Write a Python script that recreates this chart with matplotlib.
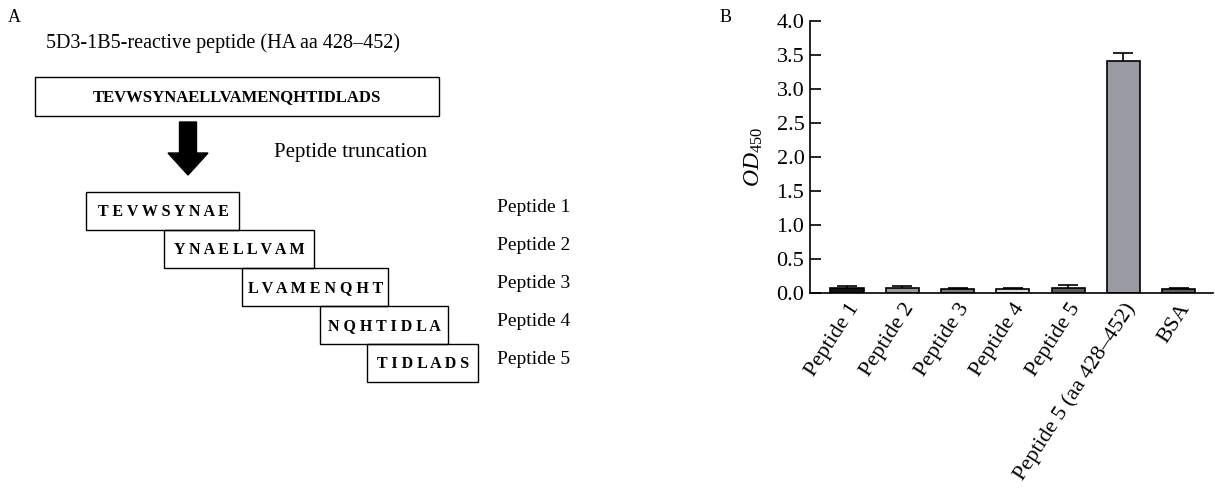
import matplotlib
matplotlib.use('Agg')
import matplotlib.pyplot as plt
from matplotlib.patches import Rectangle, FancyArrow

plt.rcParams['font.family'] = ['Liberation Serif', 'DejaVu Serif']
plt.rcParams['mathtext.fontset'] = 'custom'
plt.rcParams['mathtext.rm'] = 'Liberation Serif'
plt.rcParams['mathtext.it'] = 'Liberation Serif:italic'

# Panel A data: full reactive peptide and its truncations (residue numbers 1..25 -> aa 428..452)
full_seq = 'TEVWSYNAELLVAMENQHTIDLADS'
peptide_names = ['Peptide 1', 'Peptide 2', 'Peptide 3', 'Peptide 4', 'Peptide 5']
peptide_start = [1, 6, 11, 16, 19]
peptide_end = [9, 14, 19, 23, 25]

# Panel B data: ELISA OD450
categories = ['Peptide 1', 'Peptide 2', 'Peptide 3', 'Peptide 4', 'Peptide 5',
              'Peptide 5 (aa 428\u2013452)', 'BSA']
od450 = [0.07, 0.07, 0.065, 0.065, 0.08, 3.41, 0.065]
od450_err = [0.03, 0.03, 0.01, 0.01, 0.04, 0.12, 0.01]
bar_colors = ['#111111', '#9a9a9a', '#7a7a7a', '#dcdcdc', '#5a5a5a', '#9a9aa3', '#5c5c5c']

W, H = 1215, 496
fig = plt.figure(figsize=(W / 100, H / 100), dpi=100)

# ---- Panel A (schematic, drawn in pixel coordinates) ----
axA = fig.add_axes([0, 0, 1, 1])
axA.set_xlim(0, W)
axA.set_ylim(H, 0)
axA.axis('off')

axA.text(8, 18, 'A', fontsize=13, ha='left', va='center')
axA.text(223, 43, '5D3-1B5-reactive peptide (HA aa 428\u2013452)', fontsize=14.5,
         ha='center', va='center')
axA.add_patch(Rectangle((35, 77), 404, 39, fill=False, lw=1.0, ec='black'))
axA.text(237, 97, full_seq, fontsize=12, fontweight='bold', ha='center', va='center')

axA.add_patch(FancyArrow(188, 122, 0, 53, width=17, head_width=40, head_length=22,
                         length_includes_head=True, color='black'))
axA.text(274, 152, 'Peptide truncation', fontsize=15, ha='left', va='center')

for i, (name, s, e) in enumerate(zip(peptide_names, peptide_start, peptide_end)):
    left = 86 + (s - 1) * 15.6
    right = 105 + e * 14.9
    top = 192 + i * 38
    axA.add_patch(Rectangle((left, top), right - left, 38, fill=False, lw=1.0, ec='black'))
    sub = full_seq[s - 1:e]
    axA.text((left + right) / 2 + 1, top + 20, ' '.join(sub), fontsize=11.5,
             fontweight='bold', ha='center', va='center')
    axA.text(497, top + 15, name, fontsize=14, ha='left', va='center')

axA.text(720, 17, 'B', fontsize=13, ha='left', va='center')

# ---- Panel B (bar chart) ----
axB = fig.add_axes([810 / W, (H - 293) / H, (1213 - 810) / W, (293 - 21) / H])
x = list(range(len(categories)))
axB.errorbar(x, od450, yerr=od450_err, fmt='none', ecolor='black', elinewidth=1.2,
             capsize=7, capthick=1.2, zorder=1)
axB.bar(x, od450, width=0.6, color=bar_colors, edgecolor='black', linewidth=1.2, zorder=2)

axB.set_xlim(-0.67, 6.62)
axB.set_ylim(0, 4)
axB.set_yticks([i * 0.5 for i in range(9)])
axB.set_yticklabels([f'{i * 0.5:.1f}' for i in range(9)], fontsize=16)
axB.set_xticks(x)
axB.set_xticklabels(categories, rotation=57, ha='right', rotation_mode='anchor', fontsize=16)
axB.tick_params(axis='x', length=0, pad=5)
axB.tick_params(axis='y', direction='in', length=8, width=1.2, pad=4)
axB.spines['top'].set_visible(False)
axB.spines['right'].set_visible(False)
axB.spines['left'].set_linewidth(1.2)
axB.spines['bottom'].set_linewidth(1.2)
axB.set_ylabel(r'$\mathit{OD}_{\mathrm{450}}$', fontsize=17, labelpad=8)

fig.savefig('out.png', dpi=100)
